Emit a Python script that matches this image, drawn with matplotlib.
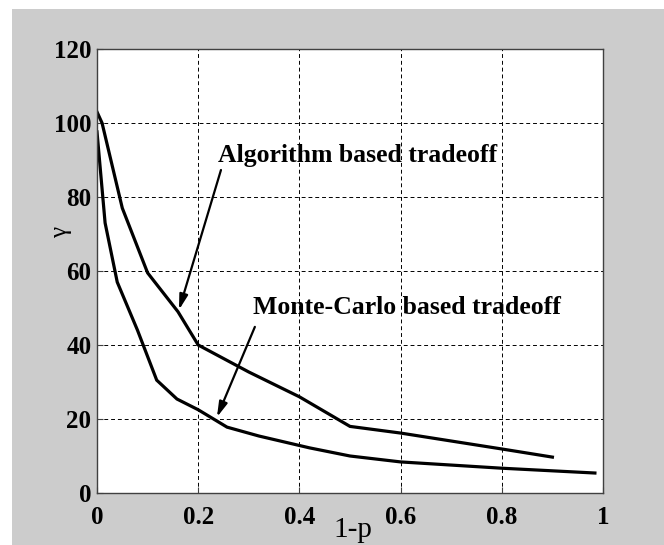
import matplotlib.pyplot as plt
from matplotlib.patches import Rectangle

# curve samples
x_alg = [0.0, 0.01, 0.05, 0.10, 0.16, 0.20, 0.30, 0.40, 0.50, 0.60, 0.80, 0.90]
y_alg = [103, 100, 77, 59.5, 49, 40, 32.7, 26, 18, 16.2, 11.9, 9.7]

x_mc = [0.0, 0.016, 0.04, 0.08, 0.118, 0.158, 0.20, 0.257, 0.32, 0.42, 0.50, 0.60, 0.80, 0.984]
y_mc = [97.6, 73, 57, 44, 30.5, 25.4, 22.5, 17.8, 15.4, 12.2, 10, 8.4, 6.7, 5.4]

xticks = [0, 0.2, 0.4, 0.6, 0.8, 1]
xtick_labels = ["0", "0.2", "0.4", "0.6", "0.8", "1"]
yticks = [0, 20, 40, 60, 80, 100, 120]

serif = "Liberation Serif"
gray = "#cccccc"

fig = plt.figure(figsize=(6.64, 5.45), dpi=100, facecolor="white")
# grey figure area, leaving thin white strip at top and left
fig.patches.append(Rectangle((12 / 664, -0.01), 1, 1.01 - 9 / 545, transform=fig.transFigure,
                             facecolor=gray, edgecolor="none", zorder=-10))

ax = fig.add_axes([97 / 664, 1 - 493 / 545, 506 / 664, 444 / 545])
ax.plot(x_alg, y_alg, color="black", lw=2.3, solid_joinstyle="miter")
ax.plot(x_mc, y_mc, color="black", lw=2.3, solid_joinstyle="miter")

ax.set_xlim(0, 1)
ax.set_ylim(0, 120)
ax.set_xticks(xticks)
ax.set_xticklabels(xtick_labels)
ax.set_yticks(yticks)
ax.grid(True, color="black", linestyle=(0, (4, 3)), linewidth=0.7)
ax.tick_params(direction="in", length=4, width=0.8, color="#404040")
ax.tick_params(axis="x", pad=9)
ax.tick_params(axis="y", pad=4)
for lab in ax.get_xticklabels() + ax.get_yticklabels():
    lab.set_fontfamily(serif)
    lab.set_fontweight("bold")
    lab.set_fontsize(18)
for sp in ax.spines.values():
    sp.set_color("#404040")
    sp.set_linewidth(1.0)

ax.set_xlabel("1-p", fontfamily=serif, fontsize=21)
ax.xaxis.set_label_coords(0.505, -0.055)
ax.set_ylabel("γ", fontfamily=serif, fontsize=18)
ax.yaxis.set_label_coords(-0.05, 0.586)

arrow = dict(arrowstyle="-|>,head_length=0.9,head_width=0.25", color="black", lw=1.6,
             shrinkA=0, shrinkB=0)
ax.annotate("", xy=(0.162, 49.5), xytext=(0.245, 87.3), arrowprops=arrow)
ax.annotate("", xy=(0.237, 20.5), xytext=(0.312, 44.9), arrowprops=arrow)
ax.text(0.239, 89.5, "Algorithm based tradeoff", fontfamily=serif, fontweight="bold",
        fontsize=18.5, va="baseline")
ax.text(0.308, 48.5, "Monte-Carlo based tradeoff", fontfamily=serif, fontweight="bold",
        fontsize=18.5, va="baseline")

fig.savefig("out.png", dpi=100, facecolor=fig.get_facecolor())
